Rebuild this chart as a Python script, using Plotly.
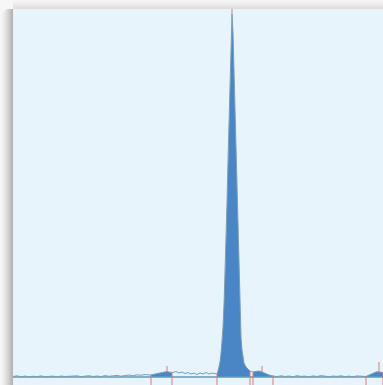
import numpy as np
import plotly.graph_objects as go

# retention time (min) and detector signal (mAU)
time = [0.0,0.4,0.8,1.2,1.6,2.0,2.4,2.8,3.2,3.6,4.0,4.4,4.8,5.2,5.6,6.0,6.4,6.8,7.2,7.6,
        8.0,8.4,8.8,9.2,9.6,10.0,10.4,10.8,11.2,11.6,12.0,12.4,12.8,13.2,13.6,
        13.8,14.0,14.2,14.4,14.6,14.8,15.0,15.2,15.4,15.6,15.8,15.9,
        16.0,16.3,16.6,16.9,17.2,17.5,17.8,18.1,18.4,18.7,19.0,19.3,19.6,19.9,20.2,
        20.4,20.5,20.6,20.7,20.8,20.9,21.0,21.1,21.2,21.3,21.4,21.5,21.6,21.7,21.8,21.9,
        22.0,22.1,22.2,22.3,22.4,22.5,22.6,22.7,22.8,22.9,23.0,23.1,23.3,23.5,23.7,
        23.85,24.0,24.2,24.4,24.6,24.8,25.0,25.2,25.4,25.6,25.8,26.0,
        26.4,26.8,27.2,27.6,28.0,28.4,28.8,29.2,29.6,30.0,30.4,30.8,31.2,31.6,32.0,
        32.4,32.8,33.2,33.6,34.0,34.4,34.8,35.1,
        35.3,35.5,35.7,35.9,36.1,36.3,36.5,36.7,36.9,37.0]
signal = [0.5,1.2,0.3,1.0,0.2,0.8,0.4,1.1,0.3,0.6,0.9,0.2,1.0,0.5,0.7,0.3,1.2,0.4,0.8,1.3,
          0.5,1.0,0.4,1.4,0.7,1.1,1.6,0.8,1.5,2.0,1.2,2.2,1.8,2.5,2.0,
          2.0,2.5,3.0,3.5,4.0,4.2,4.5,5.0,5.5,5.0,4.5,4.2,
          4.5,5.5,4.0,5.0,3.5,4.5,3.0,4.0,2.5,4.0,3.0,4.5,3.0,4.0,3.5,
          3.0,6.0,10.0,15.0,23.0,34.0,50.0,72.0,100.0,135.0,175.0,218.0,262.0,305.0,342.0,364.0,
          345.0,305.0,262.0,218.0,175.0,133.0,95.0,63.0,40.0,27.0,19.0,14.0,10.0,7.5,6.0,
          5.5,5.0,5.5,6.0,6.0,5.5,4.5,3.5,2.5,2.0,1.5,1.0,
          0.4,1.2,0.5,1.0,0.3,1.3,0.6,0.9,0.2,1.1,0.5,1.4,0.7,0.3,1.0,
          0.6,1.2,0.4,0.9,0.3,1.1,0.5,0.3,
          0.5,1.5,2.5,3.5,4.3,5.0,5.2,5.0,4.7,4.5]

peak_start = [13.8, 20.4, 24.0, 35.3]
peak_end = [15.9, 23.7, 26.0, 37.0]
peak_apex = [15.4, 21.9, 24.9, 36.6]
apex_tick_top = [11.0, 369.0, 11.0, 15.0]

t = np.array(time)
s = np.array(signal)

fig = go.Figure()

fill_color = "#4a86c6"
for a, b in zip(peak_start, peak_end):
    m = (t >= a - 1e-9) & (t <= b + 1e-9)
    fig.add_trace(go.Scatter(x=t[m], y=s[m], mode="lines", line=dict(width=0),
                             fill="tozeroy", fillcolor=fill_color, hoverinfo="skip"))

# integration baseline
fig.add_trace(go.Scatter(x=[t.min(), t.max()], y=[0, 0], mode="lines",
                         line=dict(color="#5b9dbf", width=1.6), hoverinfo="skip"))
# raw signal
fig.add_trace(go.Scatter(x=t, y=s, mode="lines",
                         line=dict(color="#7b9db6", width=1), hoverinfo="skip"))

# peak boundary markers (from signal down to the bottom) and apex ticks
bx, by = [], []
for b in sorted(set(peak_start + peak_end)):
    v = float(np.interp(b, t, s))
    bx += [b, b, None]
    by += [v, -8, None]
for p, top in zip(peak_apex, apex_tick_top):
    v = float(np.interp(p, t, s))
    bx += [p, p, None]
    by += [v, top, None]
fig.add_trace(go.Scatter(x=bx, y=by, mode="lines",
                         line=dict(color="#d97a7a", width=1), hoverinfo="skip"))

# drop shadow around the plot frame
shapes = []
L, T = 13, 9
W, H = 383, 385
pw, ph = W - L, H - T
for i in range(L):
    f = (i + 1) / L
    g = int(248 - 70 * f ** 1.6)
    shapes.append(dict(type="rect", xref="paper", yref="paper",
                       x0=(i - L) / pw, x1=(i + 1 - L) / pw, y0=-0.01, y1=1 - (max(0, 6 - i)) / ph,
                       fillcolor=f"rgb({g},{g},{g})", line=dict(width=0), layer="below"))
for j in range(T):
    f = (T - j) / T
    g = int(247 - 26 * f ** 1.4)
    shapes.append(dict(type="rect", xref="paper", yref="paper",
                       x0=0, x1=1.01, y0=1 + (j) / ph, y1=1 + (j + 1) / ph,
                       fillcolor=f"rgb({g},{g},{g})", line=dict(width=0), layer="below"))

fig.update_layout(
    width=W, height=H,
    margin=dict(l=L, r=0, t=T, b=0, pad=0),
    paper_bgcolor="#f7f7f7",
    plot_bgcolor="#e7f4fb",
    showlegend=False,
    shapes=shapes,
    xaxis=dict(range=[0, 37], visible=False, showgrid=False, zeroline=False),
    yaxis=dict(range=[-8, 369], visible=False, showgrid=False, zeroline=False),
)

fig.write_html("out.html", config={"displayModeBar": False},
               post_script="document.body.style.margin='0px';document.body.style.overflow='hidden';")
